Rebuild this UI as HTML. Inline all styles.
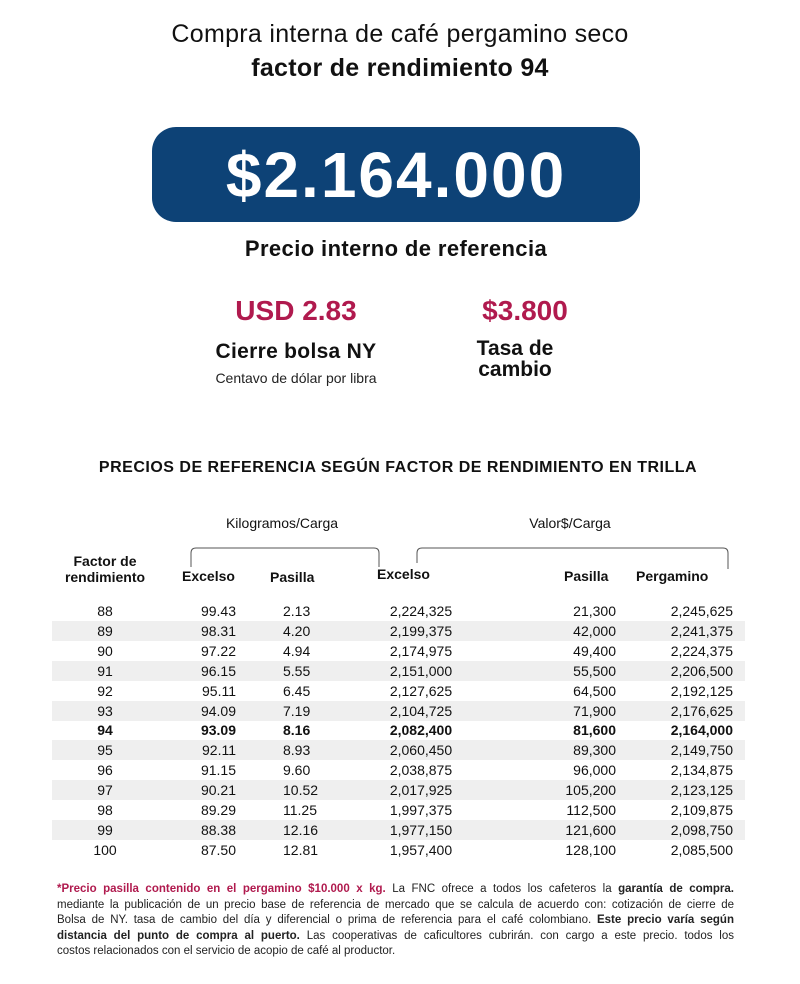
<!DOCTYPE html>
<html><head><meta charset="utf-8"><style>
body{margin:0;width:800px;height:984px;background:#fff;position:relative;font-family:"Liberation Sans",sans-serif;color:#111;overflow:hidden}
.a{position:absolute;white-space:nowrap}
.c{text-align:center}
.row{position:absolute;left:52px;width:693px;height:20px;font-size:14px;line-height:20px}
.row span{position:absolute;top:0}
.g{background:#efefef}
.b{font-weight:bold}
.hd{font-weight:bold;font-size:14px}
.fl{position:absolute;left:57px;width:677px;font-size:11.5px;white-space:nowrap;text-align:justify;text-align-last:justify;color:#222;height:15px;line-height:15px}
</style></head><body>
<div class="a c" style="left:0;width:800px;top:20px;font-size:25px;letter-spacing:0.3px">Compra interna de café pergamino seco</div>
<div class="a c" style="left:0;width:800px;top:54px;font-size:25px;font-weight:bold;letter-spacing:0.3px">factor de rendimiento 94</div>
<div class="a" style="left:152px;top:127px;width:488px;height:95px;background:#0d4276;border-radius:24px"></div>
<div class="a c" style="left:152px;width:488px;top:138px;font-size:64px;font-weight:bold;color:#fff;letter-spacing:2px">$2.164.000</div>
<div class="a c" style="left:0;width:792px;top:236px;font-size:22px;font-weight:bold;letter-spacing:0.4px">Precio interno de referencia</div>
<div class="a c" style="left:196px;width:200px;top:295px;font-size:28px;font-weight:bold;color:#b01a4e">USD 2.83</div>
<div class="a c" style="left:196px;width:200px;top:340px;font-size:21px;font-weight:bold;letter-spacing:0.3px">Cierre bolsa NY</div>
<div class="a c" style="left:186px;width:220px;top:370px;font-size:14px;color:#222">Centavo de dólar por libra</div>
<div class="a c" style="left:425px;width:200px;top:295px;font-size:28px;font-weight:bold;color:#b01a4e">$3.800</div>
<div class="a c" style="left:440px;width:150px;top:338px;font-size:21px;font-weight:bold;line-height:21px">Tasa de<br>cambio</div>
<div class="a c" style="left:0;width:796px;top:459px;font-size:16px;font-weight:bold;letter-spacing:0.5px">PRECIOS DE REFERENCIA SEGÚN FACTOR DE RENDIMIENTO EN TRILLA</div>
<div class="a c" style="left:182px;width:200px;top:515px;font-size:14px">Kilogramos/Carga</div>
<div class="a c" style="left:470px;width:200px;top:515px;font-size:14px">Valor$/Carga</div>
<svg class="a" style="left:0;top:0" width="800" height="984"><path d="M191,567 V553 Q191,548 196,548 H374 Q379,548 379,553 V567" fill="none" stroke="#555" stroke-width="1"/><path d="M417,563 V553 Q417,548 422,548 H723 Q728,548 728,553 V569" fill="none" stroke="#555" stroke-width="1"/></svg>
<div class="a c hd" style="left:55px;width:100px;top:553px;line-height:16px">Factor de<br>rendimiento</div>
<div class="a hd" style="left:182px;top:568px">Excelso</div>
<div class="a hd" style="left:270px;top:569px">Pasilla</div>
<div class="a hd" style="left:377px;top:566px">Excelso</div>
<div class="a hd" style="left:564px;top:568px">Pasilla</div>
<div class="a hd" style="left:636px;top:568px">Pergamino</div>
<div id="t"></div>
<script>
var d=[["88","99.43","2.13","2,224,325","21,300","2,245,625"],["89","98.31","4.20","2,199,375","42,000","2,241,375"],["90","97.22","4.94","2,174,975","49,400","2,224,375"],["91","96.15","5.55","2,151,000","55,500","2,206,500"],["92","95.11","6.45","2,127,625","64,500","2,192,125"],["93","94.09","7.19","2,104,725","71,900","2,176,625"],["94","93.09","8.16","2,082,400","81,600","2,164,000"],["95","92.11","8.93","2,060,450","89,300","2,149,750"],["96","91.15","9.60","2,038,875","96,000","2,134,875"],["97","90.21","10.52","2,017,925","105,200","2,123,125"],["98","89.29","11.25","1,997,375","112,500","2,109,875"],["99","88.38","12.16","1,977,150","121,600","2,098,750"],["100","87.50","12.81","1,957,400","128,100","2,085,500"]];
var h="";d.forEach(function(r,i){var top=601+i*19.9;h+='<div class="row'+(i%2?' g':'')+(i==6?' b':'')+'" style="top:'+top+'px">'+
'<span style="left:23px;width:60px;text-align:center">'+r[0]+'</span>'+
'<span style="left:120px;width:64px;text-align:right">'+r[1]+'</span>'+
'<span style="left:231px">'+r[2]+'</span>'+
'<span style="left:319px;width:100px;text-align:center">'+r[3]+'</span>'+
'<span style="left:464px;width:100px;text-align:right">'+r[4]+'</span>'+
'<span style="left:581px;width:100px;text-align:right">'+r[5]+'</span></div>'});
document.getElementById("t").innerHTML=h;
</script>
<div class="fl" style="top:882px"><b style="color:#b01a4e">*Precio pasilla contenido en el pergamino $10.000 x kg.</b> La FNC ofrece a todos los cafeteros la <b>garantía de compra.</b></div>
<div class="fl" style="top:897.5px">mediante la publicación de un precio base de referencia de mercado que se calcula de acuerdo con: cotización de cierre de</div>
<div class="fl" style="top:913px">Bolsa de NY. tasa de cambio del día y diferencial o prima de referencia para el café colombiano. <b>Este precio varía según</b></div>
<div class="fl" style="top:928.5px"><b>distancia del punto de compra al puerto.</b> Las cooperativas de caficultores cubrirán. con cargo a este precio. todos los</div>
<div class="fl" style="top:944px;text-align-last:left">costos relacionados con el servicio de acopio de café al productor.</div>
</body></html>
